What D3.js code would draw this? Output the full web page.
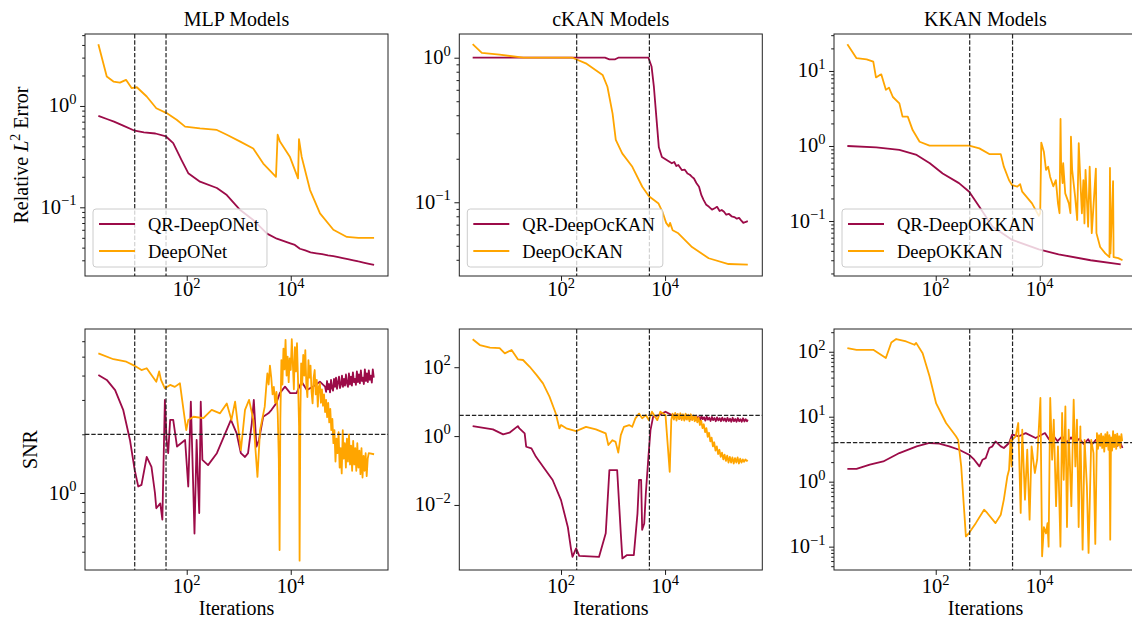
<!DOCTYPE html>
<html>
<head>
<meta charset="utf-8">
<script src="https://cdn.jsdelivr.net/npm/d3@7"></script>
<style>
  body { margin: 0; background: #fff; }
  svg text { font-family: "Liberation Serif", "Times New Roman", serif; fill: #000; }
</style>
</head>
<body>
<svg id="chart" width="1132" height="621"></svg>
<script>
// ---- data: [iteration, value] ----
var mlpErrQR = [[2,0.80],[3,0.74],[4,0.70],[6,0.64],[10,0.57],[15,0.55],[25,0.535],[40,0.50],[55,0.43],[80,0.29],[107,0.217],[180,0.179],[380,0.155],[590,0.132],[1070,0.094],[1900,0.075],[3500,0.055],[5400,0.049],[9800,0.044],[12000,0.0425],[15000,0.039],[19000,0.0375],[24000,0.036],[31000,0.0352],[40000,0.0345],[52000,0.0336],[66000,0.033],[82000,0.0322],[100000,0.0315],[125000,0.0308],[160000,0.030],[200000,0.0292],[250000,0.0285],[320000,0.0277],[400000,0.027]];
var mlpErrBase = [[2,4.07],[2.9,1.95],[3.9,1.74],[5.2,1.70],[6.8,1.81],[8.7,1.50],[11,1.53],[17,1.24],[26,0.95],[41,0.85],[64,0.73],[93,0.625],[180,0.60],[380,0.58],[590,0.52],[1070,0.445],[1900,0.38],[2960,0.27],[5200,0.20],[5600,0.52],[6200,0.445],[9600,0.316],[13800,0.193],[14400,0.47],[16200,0.316],[23500,0.148],[36500,0.087],[66000,0.060],[120000,0.051],[200000,0.050],[400000,0.050]];

var ckanErrQR = [[2,1.0],[100,1.0],[700,1.0],[850,0.975],[1100,0.975],[1260,1.0],[4800,1.0],[5500,0.87],[6100,0.63],[6800,0.39],[7600,0.24],[8700,0.206],[13500,0.186],[15000,0.19],[16500,0.178],[18000,0.181],[21000,0.167],[24000,0.168],[27000,0.158],[30000,0.155],[33000,0.150],[36000,0.146],[40000,0.136],[45000,0.128],[50000,0.112],[55000,0.104],[62000,0.096],[70000,0.093],[80000,0.089],[90000,0.091],[100000,0.093],[112000,0.087],[123000,0.0885],[136000,0.086],[150000,0.082],[170000,0.083],[190000,0.080],[215000,0.079],[240000,0.077],[265000,0.078],[290000,0.075],[320000,0.072],[350000,0.073],[390000,0.074]];
var ckanErrBase = [[2,1.24],[3,1.08],[6.6,1.05],[19,1.0],[166,1.0],[300,0.914],[630,0.76],[780,0.63],[980,0.41],[1130,0.27],[1500,0.218],[2350,0.176],[3650,0.128],[4900,0.110],[7500,0.098],[9000,0.085],[10500,0.072],[11800,0.068],[12500,0.072],[14000,0.064],[18000,0.061],[33000,0.049],[69000,0.041],[166000,0.0374],[390000,0.037]];

var kkanErrQR = [[2,1.0],[7.2,0.96],[20,0.885],[43,0.76],[77,0.59],[136,0.43],[280,0.32],[440,0.246],[690,0.155],[1240,0.084],[2970,0.056],[9600,0.042],[23000,0.036],[95000,0.030],[360000,0.0265]];
var kkanErrBase = [[2,22.7],[3,14.8],[4.7,14.3],[6.3,13.3],[7.1,8.2],[8.3,8.8],[9,9.0],[11,5.6],[12.6,6.0],[15,4.5],[20,3.7],[23,2.46],[29,2.46],[36,1.63],[49,1.14],[76,1.01],[440,1.01],[690,0.93],[1070,0.78],[1780,0.78],[2040,0.53],[2570,0.35],[2950,0.30],[3700,0.287],[4200,0.31],[4600,0.246],[7100,0.172],[9600,0.117],[10200,0.127],[10700,1.11],[12000,0.84],[13200,0.48],[14500,0.53],[15800,0.39],[18200,0.29],[20400,0.35],[22400,0.172],[24000,0.127],[25100,2.29],[25700,0.59],[27500,0.32],[28200,0.59],[30900,0.234],[36300,0.172],[38900,0.127],[39800,1.33],[42000,0.48],[47900,0.21],[52500,0.103],[56200,1.09],[60300,0.35],[64600,0.127],[69000,0.35],[72400,0.093],[75900,0.48],[85100,0.084],[91200,0.53],[100000,0.069],[120000,0.50],[123000,0.069],[145000,0.045],[182000,0.037],[219000,0.033],[224000,0.51],[229000,0.037],[257000,0.34],[263000,0.033],[324000,0.032],[390000,0.030]];

var mlpSnrQR = [[2,4.03],[2.9,3.8],[4.2,3.37],[6,2.67],[8.1,1.87],[10,1.31],[11.7,1.08],[13.5,1.10],[17,1.53],[21,1.36],[24.5,1.0],[26,0.835],[31,0.885],[34,0.73],[38,3.0],[41,1.87],[44,1.6],[48,2.37],[55,2.37],[65,1.73],[93,1.87],[107,1.08],[120,2.94],[129,1.48],[141,0.62],[155,1.87],[166,1.08],[174,0.79],[186,2.94],[200,1.48],[257,1.39],[380,1.6],[550,2.02],[708,2.37],[912,2.02],[1100,1.6],[1320,1.53],[1510,1.6],[1780,2.27],[1950,3.0],[2190,1.73],[2450,1.87],[2950,2.46],[3720,2.56],[4270,2.67],[5250,2.88],[6170,3.25],[7760,3.51],[9770,3.25],[12900,3.25],[16200,3.72],[20400,3.37],[26900,3.51],[36300,3.72],
  [45700,3.51],[47800,3.3],[49900,3.75],[52100,3.4],[54500,3.62],[56900,3.28],[59500,3.8],[62200,3.45],[65000,3.35],[67900,3.85],[71000,3.5],[74200,3.9],[77500,3.42],[81000,3.7],[84700,3.95],[88500,3.45],[92500,3.6],[96600,4.0],[101000,3.5],[105500,3.85],[110300,3.55],[115200,4.05],[120400,3.65],[125800,3.5],[131500,4.1],[137400,3.6],[143600,3.95],[150100,3.55],[156800,4.15],[163900,3.7],[171200,3.85],[178900,3.58],[187000,4.2],[195400,3.7],[204200,4.05],[213400,3.65],[223000,4.25],[233000,3.75],[243500,3.9],[254500,3.62],[266000,4.3],[278000,3.75],[290500,4.1],[303500,3.7],[317000,4.25],[331500,3.8],[346500,4.0],[362000,3.68],[378000,4.3],[395000,3.9]];
var mlpSnrBase = [[2,5.2],[3.9,4.85],[6.9,4.71],[9.8,4.5],[13.5,4.27],[17,4.36],[21,4.03],[26,3.72],[29.5,4.2],[32,3.8],[38,3.44],[48,3.58],[59,3.5],[74,3.65],[85,2.77],[98,2.1],[107,2.37],[135,2.46],[209,2.42],[302,2.67],[437,2.56],[589,2.88],[724,2.37],[851,2.94],[1100,1.66],[1320,2.67],[1580,3.0],[1910,2.37],[2290,1.21],[2570,2.1],
  [3160,2.77],[3350,3.4],[3550,4.1],[3760,3.6],[3980,4.5],[4220,3.9],[4470,3.2],[4730,3.5],[5010,2.9],[5310,3.3],[5620,2.56],[5890,1.5],[6100,0.51],[6310,2.4],[6610,4.8],[6920,3.6],[7240,5.5],[7590,4.3],[7940,6.1],[8320,4.0],[8710,5.0],[9120,3.7],[9550,4.9],[10000,4.27],[10470,6.14],[10960,4.6],[11480,3.4],[12020,5.6],[12590,4.2],[13180,5.86],[13800,3.8],[14450,2.2],[14790,0.45],[15310,2.5],[15850,4.62],[16600,3.6],[17380,5.1],[18200,4.0],[19050,5.4],[19950,3.6],[20890,3.1],[21880,4.8],[22910,3.9],[23990,4.5],[25120,3.3],[26300,2.88],[27540,3.9],[28840,4.27],[30200,3.2],[31620,3.8],[33110,2.77],[34670,3.5],[36310,3.65],[38020,2.9],[39810,3.4],[41690,2.8],[43650,3.2],[45710,2.6],[47860,3.0],[50120,2.45],[52480,2.9],[54950,2.3],[57540,2.7],[60260,2.1],[63100,2.4],[66070,1.8],[69180,2.1],[72440,1.45],[75860,1.9],[79430,1.6],[83180,2.05],[87100,1.35],[91200,1.7],[95500,1.26],[100000,2.1],[104700,1.5],[109600,1.8],[114800,1.35],[120200,1.9],[125900,1.45],[131800,2.0],[138000,1.4],[144500,1.75],[151400,1.3],[158500,1.85],[166000,1.4],[173800,1.7],[182000,1.3],[190500,1.8],[199500,1.35],[208900,1.65],[218800,1.25],[229100,1.7],[239900,1.2],[251200,1.55],[263000,1.3],[275400,1.6],[288400,1.22],[302000,1.5],[316200,1.6],[400000,1.58]];

var ckanSnrQR = [[2,1.95],[4.9,1.57],[7.7,1.12],[10.2,1.25],[14.8,1.95],[15.8,1.67],[20,1.2],[21.4,0.49],[27,0.44],[33,0.25],[51,0.10],[69,0.053],[100,0.0138],[135,0.0023],[155,0.00055],[166,0.00031],[195,0.00055],[224,0.00033],[537,0.00031],[724,0.0015],[851,0.103],[1200,0.103],[1410,0.0015],[1510,0.00028],[1860,0.00035],[2510,0.00035],[2950,0.0056],[3160,0.053],[3470,0.053],[3630,0.0019],[3980,0.0029],[4270,0.0216],[4790,0.25],[5250,1.49],[5890,3.6],[7590,4.07],[10200,5.1],[13500,4.07],[17000,4.2],
  [19050,3.2],[19950,4.1],[21130,3.4],[22390,3.9],[23710,3.1],[25120,4.2],[26610,3.5],[28180,3.8],[29850,3.0],[31620,4.0],[33500,3.3],[35480,3.7],[37580,2.9],[39810,3.9],[42170,3.2],[44670,3.6],[47320,2.9],[50120,3.8],[53090,3.1],[56230,3.5],[59570,2.8],[63100,3.7],[66830,3.0],[70790,3.4],[74990,2.75],[79430,3.6],[84140,2.9],[89130,3.35],[94410,2.7],[100000,3.5],[105900,2.85],[112200,3.3],[118900,2.7],[125900,3.45],[133400,2.8],[141300,3.25],[149600,2.65],[158500,3.4],[167900,2.75],[177800,3.2],[188400,2.6],[199500,3.4],[211300,2.7],[223900,3.15],[237100,2.6],[251200,3.35],[266100,2.7],[281800,3.1],[298500,2.6],[316200,3.3],[335000,2.65],[354800,3.1],[375800,2.7],[389000,3.0]];
var ckanSnrBase = [[2,650],[2.75,440],[4.3,370],[6.6,360],[8.3,253],[11.2,316],[14.8,170],[18.6,162],[25,103],[34,59],[45,34],[60,14],[79,4.6],[93,1.68],[100,2.09],[126,1.68],[195,1.4],[302,1.86],[468,1.57],[724,1.2],[813,0.55],[977,0.76],[1120,0.68],[1260,0.33],[1410,1.07],[1620,1.86],[2040,2.09],[2340,1.86],[2690,3.27],[3160,4.5],[3630,3.27],[4270,4.07],[4900,2.9],[5600,5.1],[7100,2.9],[8100,5.1],[10200,4.07],[12300,0.091],
  [13180,2.9],[13960,4.5],[14790,3.0],[15670,4.7],[16600,2.8],[17580,4.4],[18620,3.1],[19720,4.6],[20890,2.9],[22130,4.3],[23440,2.8],[24830,4.5],[26300,3.0],[27860,4.2],[29510,2.7],[31260,4.3],[33110,2.9],[35080,4.0],[37150,2.7],[39360,3.8],[41690,2.5],[44160,3.4],[46770,2.1],[49550,2.8],[52480,1.7],[55590,2.2],[58880,1.3],[62370,1.7],[66070,0.95],[69980,1.25],[74130,0.7],[78520,0.9],[83180,0.5],[88100,0.66],[93330,0.38],[98860,0.5],[104700,0.3],[110900,0.4],[117500,0.25],[124500,0.33],[131800,0.21],[139600,0.29],[147900,0.19],[156700,0.27],[166000,0.17],[175800,0.25],[186200,0.17],[197200,0.24],[208900,0.16],[221300,0.23],[234400,0.17],[248300,0.24],[263000,0.16],[278600,0.22],[295100,0.17],[312600,0.21],[331100,0.18],[350800,0.21],[371500,0.19],[389000,0.2]];

var kkanSnrQR = [[2,1.57],[3,1.57],[5.4,1.83],[9.8,2.05],[20,2.76],[43,3.5],[76,3.94],[117,3.85],[182,3.5],[282,3.1],[437,2.6],[550,2.18],[692,1.72],[794,2.18],[912,2.3],[1070,3.3],[1230,3.5],[1410,4.17],[1780,3.5],[2040,3.3],[2570,3.94],[2950,5.3],[3980,5.0],[5370,5.6],[8320,4.7],[12600,5.6],[15000,4.5],[18000,5.2],[22000,4.2],[27000,5.0],[33000,4.0],[40000,4.8],[48000,4.0],[58000,4.6],[70000,3.8],[85000,4.5],[100000,3.7],[120000,4.4],[145000,3.6],[175000,4.3],[210000,3.6],[250000,4.2],[300000,3.5],[350000,4.1],[390000,3.3]];
var kkanSnrBase = [[2,114],[3,107],[6.3,107],[11,80],[14,139],[17.4,157],[27,144],[39,128],[42,137],[56,95],[76,42],[102,16],[158,8],[245,5],[270,4.4],[309,1.72],[380,0.144],[437,0.162],[589,0.23],[851,0.37],[977,0.33],[1410,0.23],[1780,0.31],[2040,0.53],[2380,1.2],[2570,1.53],[2750,4.4],[2880,1.72],[2950,4.4],[3440,4.97],[3860,8.0],[4300,0.33],[4610,6.3],[5200,0.53],[5750,3.1],[6380,0.26],[6970,3.5],[8050,1.36],[8920,2.18],[10300,19.4],[11100,0.071],[12000,0.2],[13200,0.16],[14100,0.23],[14800,0.10],[15900,19.4],[17300,2.18],[18600,9],[20600,0.42],[22400,3.5],[25000,0.10],[26900,11.4],[28900,1.07],[31100,14.4],[33400,0.2],[36000,6.3],[40500,0.42],[44900,18.3],[48400,1.72],[51900,9],[56000,0.2],[60300,7.1],[66700,0.09],[72800,4.4],[80600,0.85],[86800,0.08],[97700,4.4],[108000,2.76],[117000,0.11],
  [125900,5.6],[131800,3.2],[138000,5.2],[144500,3.6],[151400,5.5],[158500,3.3],[166000,5.0],[173800,2.9],[182000,5.4],[190500,3.5],[199500,5.8],[208900,3.1],[218800,5.2],[226500,0.128],[234400,4.8],[245500,3.0],[257000,6.0],[269200,3.4],[281800,5.3],[295100,3.2],[309000,5.5],[323600,3.6],[338800,5.0],[354800,3.3],[371500,5.4],[384600,4.2]];

// labels, ticks, reference lines
var modelTitles = ["MLP Models", "cKAN Models", "KKAN Models"];
var qrNames = ["QR-DeepONet", "QR-DeepOcKAN", "QR-DeepOKKAN"];
var baseNames = ["DeepONet", "DeepOcKAN", "DeepOKKAN"];
var switchIters = [[10, 40], [200, 5000], [450, 3000]];
var snrThresholds = [2, 4, 4];
var iterTicks = [1e2, 1e4];
var errTicks = [[0.1, 1], [0.1, 1], [0.1, 1, 10]];
var snrTicks = [[1], [0.01, 1, 100], [0.1, 1, 10, 100]];
var iterRange = [1.107, 741000];
var errRanges = [[0.021, 5.13], [0.0309, 1.459], [0.0185, 31.1]];
var snrRanges = [[0.403, 6.93], [0.000129, 1288], [0.0437, 224]];

// ---- layout ----
var colLeft = [85, 459.3, 834];
var rowTop = [34, 329];
var plotW = 303;
var plotH = [242, 241];
var xLabelDrop = [20, 23];
var colorQR = "#9c0b48";
var colorBase = "#ffa500";

var svg = d3.select("#chart");

function powLabel(sel, v) {
  var e = Math.round(Math.log10(v));
  sel.append("tspan").text("10");
  sel.append("tspan").attr("font-size", 14.5).attr("dy", -8.5)
     .text(e < 0 ? "\u2212" + (-e) : String(e));
}

function minorTicks(domain) {
  var out = [];
  var lo = Math.floor(Math.log10(domain[0])), hi = Math.ceil(Math.log10(domain[1]));
  for (var d = lo; d <= hi; d++) {
    for (var k = 2; k <= 9; k++) {
      var v = k * Math.pow(10, d);
      if (v >= domain[0] && v <= domain[1]) out.push(v);
    }
  }
  return out;
}

function drawPanel(p, idx) {
  var w = plotW, h = plotH[p.row];
  var g = svg.append("g")
    .attr("transform", "translate(" + colLeft[p.col] + "," + rowTop[p.row] + ")");

  var x = d3.scaleLog().domain(iterRange).range([0, w]);
  var y = d3.scaleLog().domain(p.yRange).range([h, 0]);

  var clipId = "clip" + idx;
  g.append("clipPath").attr("id", clipId)
    .append("rect").attr("width", w).attr("height", h);

  var plot = g.append("g").attr("clip-path", "url(#" + clipId + ")");
  var line = d3.line().x(function(d){ return x(d[0]); }).y(function(d){ return y(d[1]); });

  plot.append("path").datum(p.qr)
    .attr("d", line).attr("fill", "none")
    .attr("stroke", colorQR).attr("stroke-width", 1.8).attr("stroke-linejoin", "round");
  plot.append("path").datum(p.base)
    .attr("d", line).attr("fill", "none")
    .attr("stroke", colorBase).attr("stroke-width", 1.8).attr("stroke-linejoin", "round");

  // switch points and SNR threshold
  p.vlines.forEach(function(v){
    plot.append("line")
      .attr("x1", x(v)).attr("x2", x(v)).attr("y1", 0).attr("y2", h)
      .attr("stroke", "#222").attr("stroke-width", 1.2).attr("stroke-dasharray", "4.4,1.9");
  });
  if (p.hline) {
    plot.append("line")
      .attr("x1", 0).attr("x2", w).attr("y1", y(p.hline)).attr("y2", y(p.hline))
      .attr("stroke", "#222").attr("stroke-width", 1.2).attr("stroke-dasharray", "4.4,1.9");
  }

  // axes
  g.append("g").attr("transform", "translate(0," + h + ")")
    .call(d3.axisBottom(x).tickValues(iterTicks).tickSize(4.9).tickFormat(""));
  g.append("g")
    .call(d3.axisLeft(y).tickValues(p.yTicks).tickSize(4.9).tickFormat(""));
  if (p.minor) {
    g.append("g").call(d3.axisLeft(y).tickValues(minorTicks(p.yRange)).tickSize(2.8).tickFormat(""));
  }
  g.selectAll(".domain").remove();
  g.selectAll(".tick line").attr("stroke", "#000").attr("stroke-width", 0.9);

  iterTicks.forEach(function(v){
    var t = g.append("text").attr("x", x(v)).attr("y", h + xLabelDrop[p.row])
      .attr("text-anchor", "middle").attr("font-size", 20.5);
    powLabel(t, v);
  });
  p.yTicks.forEach(function(v){
    var t = g.append("text").attr("x", -8.5).attr("y", y(v) + 6.5)
      .attr("text-anchor", "end").attr("font-size", 20.5);
    powLabel(t, v);
  });

  // frame
  g.append("rect").attr("width", w).attr("height", h)
    .attr("fill", "none").attr("stroke", "#222").attr("stroke-width", 1);

  if (p.row === 0) {
    g.append("text").attr("x", w / 2).attr("y", -8)
      .attr("text-anchor", "middle").attr("font-size", 20).text(modelTitles[p.col]);

    // legend
    var lg = g.append("g");
    var box = lg.append("rect").attr("rx", 3).attr("ry", 3)
      .attr("fill", "#fff").attr("fill-opacity", 0.8)
      .attr("stroke", "#cccccc").attr("stroke-width", 1);
    var names = [qrNames[p.col], baseNames[p.col]];
    var cols = [colorQR, colorBase];
    var maxW = 0;
    names.forEach(function(n, i){
      var ly = 15 + i * 27;
      lg.append("line").attr("x1", 6).attr("x2", 42).attr("y1", ly).attr("y2", ly)
        .attr("stroke", cols[i]).attr("stroke-width", 1.8);
      var t = lg.append("text").attr("x", 55).attr("y", ly + 6.5)
        .attr("font-size", 18.5).text(n);
      maxW = Math.max(maxW, t.node().getComputedTextLength());
    });
    box.attr("width", 55 + maxW + 8).attr("height", 58);
    lg.attr("transform", "translate(8," + (h - 9 - 58) + ")");
  } else {
    g.append("text").attr("x", w / 2).attr("y", h + 45)
      .attr("text-anchor", "middle").attr("font-size", 20).text("Iterations");
  }
}

var panels = [
  {row: 0, col: 0, qr: mlpErrQR,  base: mlpErrBase,  yRange: errRanges[0], yTicks: errTicks[0], minor: true,  vlines: switchIters[0], hline: null},
  {row: 0, col: 1, qr: ckanErrQR, base: ckanErrBase, yRange: errRanges[1], yTicks: errTicks[1], minor: true,  vlines: switchIters[1], hline: null},
  {row: 0, col: 2, qr: kkanErrQR, base: kkanErrBase, yRange: errRanges[2], yTicks: errTicks[2], minor: true,  vlines: switchIters[2], hline: null},
  {row: 1, col: 0, qr: mlpSnrQR,  base: mlpSnrBase,  yRange: snrRanges[0], yTicks: snrTicks[0], minor: true,  vlines: switchIters[0], hline: snrThresholds[0]},
  {row: 1, col: 1, qr: ckanSnrQR, base: ckanSnrBase, yRange: snrRanges[1], yTicks: snrTicks[1], minor: false, vlines: switchIters[1], hline: snrThresholds[1]},
  {row: 1, col: 2, qr: kkanSnrQR, base: kkanSnrBase, yRange: snrRanges[2], yTicks: snrTicks[2], minor: true,  vlines: switchIters[2], hline: snrThresholds[2]}
];
panels.forEach(drawPanel);

// y labels
var yl = svg.append("text").attr("transform", "translate(28,155) rotate(-90)")
  .attr("text-anchor", "middle").attr("font-size", 20);
yl.append("tspan").text("Relative ");
yl.append("tspan").attr("font-style", "italic").text("L");
yl.append("tspan").attr("font-size", 14).attr("dy", -8).text("2");
yl.append("tspan").attr("dy", 8).text(" Error");

svg.append("text").attr("transform", "translate(37,449.5) rotate(-90)")
  .attr("text-anchor", "middle").attr("font-size", 20).text("SNR");
</script>
</body>
</html>
